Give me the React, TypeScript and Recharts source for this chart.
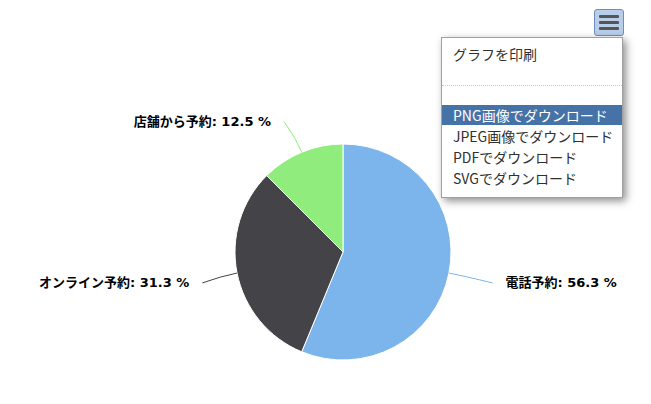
import React from 'react'
import { PieChart, Pie, Cell } from 'recharts'

const categories = ['電話予約', 'オンライン予約', '店舗から予約']
const shares = [56.3, 31.3, 12.5]
const colors = ['#7cb5ec', '#434348', '#90ed7d']
const menuItems = ['PNG画像でダウンロード', 'JPEG画像でダウンロード', 'PDFでダウンロード', 'SVGでダウンロード']

const data = categories.map((name, i) => ({ name, value: shares[i] }))

const RAD = Math.PI / 180

// highcharts風のラベル + 曲線コネクタ
const renderLabel = (props: any) => {
  const { cx, cy, midAngle, outerRadius, index, name, value } = props
  const cos = Math.cos(-midAngle * RAD)
  const sin = Math.sin(-midAngle * RAD)
  const sx = cx + outerRadius * cos
  const sy = cy + outerRadius * sin
  const far = outerRadius + 30
  const ly = cy + far * sin + (sin < -0.5 ? -3 : 4)
  const dy = ly - cy
  const right = cos >= 0
  const half = Math.sqrt(Math.max(far * far - dy * dy, 0))
  const gap = right ? 28 : 17 + 11 * Math.abs(sin)
  const tx = cx + (right ? half + gap : -half - gap)
  const ex = tx + (right ? -13 : 13)
  const mx = cx + (outerRadius + 16) * cos
  const my = cy + (outerRadius + 16) * sin
  return (
    <g key={`lbl-${index}`}>
      <path
        d={`M${sx},${sy} Q${mx},${my} ${ex},${ly}`}
        stroke={colors[index]}
        fill="none"
        strokeWidth={1}
      />
      <text
        x={tx}
        y={ly}
        textAnchor={right ? 'start' : 'end'}
        dominantBaseline="central"
        fontSize={13}
        fontWeight="bold"
        fill="#000"
        stroke="#fff"
        strokeWidth={2}
        paintOrder="stroke"
        style={{ fontFamily: '"DejaVu Sans", "Noto Sans CJK JP", sans-serif' }}
      >
        {`${name}: ${value.toFixed(1)} %`}
      </text>
    </g>
  )
}

export default function App() {
  return (
    <div
      style={{
        position: 'absolute',
        left: 0,
        top: 0,
        width: 651,
        height: 404,
        background: '#fff',
        fontFamily: '"Noto Sans CJK JP", "DejaVu Sans", sans-serif',
      }}
    >
      <PieChart width={651} height={404} margin={{ top: 0, right: 0, bottom: 0, left: 0 }}>
        <Pie
          data={data}
          dataKey="value"
          nameKey="name"
          cx={343}
          cy={252}
          outerRadius={108}
          startAngle={90}
          endAngle={-270}
          stroke="#fff"
          strokeWidth={1}
          labelLine={false}
          label={renderLabel}
          isAnimationActive={false}
        >
          {data.map((d, i) => (
            <Cell key={d.name} fill={colors[i]} />
          ))}
        </Pie>
      </PieChart>

      {/* export button */}
      <div
        style={{
          position: 'absolute',
          left: 594,
          top: 9,
          width: 30,
          height: 27,
          boxSizing: 'border-box',
          background: '#b7cde9',
          border: '1px solid #6f8fbf',
          borderRadius: 3,
        }}
      >
        {[5, 11, 17].map(t => (
          <div
            key={t}
            style={{
              position: 'absolute',
              left: 4,
              top: t,
              width: 20,
              height: 3,
              borderRadius: 1,
              background: '#555',
            }}
          />
        ))}
      </div>

      {/* export menu */}
      <div
        style={{
          position: 'absolute',
          left: 441,
          top: 37,
          width: 182,
          height: 161,
          boxSizing: 'border-box',
          background: '#fff',
          border: '1px solid #a0a0a0',
          boxShadow: '3px 3px 8px rgba(0,0,0,0.45)',
          fontSize: 14,
          color: '#303030',
        }}
      >
        <div style={{ position: 'absolute', left: 11, top: 6, lineHeight: '20px' }}>グラフを印刷</div>
        <div
          style={{
            position: 'absolute',
            left: 0,
            right: 0,
            top: 47,
            borderTop: '1px dotted #c8c8c8',
          }}
        />
        {menuItems.map((m, i) => (
          <div
            key={m}
            style={{
              position: 'absolute',
              left: 0,
              right: 0,
              top: 67 + i * 21,
              height: 20,
              lineHeight: '20px',
              paddingLeft: 11,
              background: i === 0 ? '#4572a7' : 'transparent',
              color: i === 0 ? '#fff' : '#303030',
            }}
          >
            {m}
          </div>
        ))}
      </div>
    </div>
  )
}
